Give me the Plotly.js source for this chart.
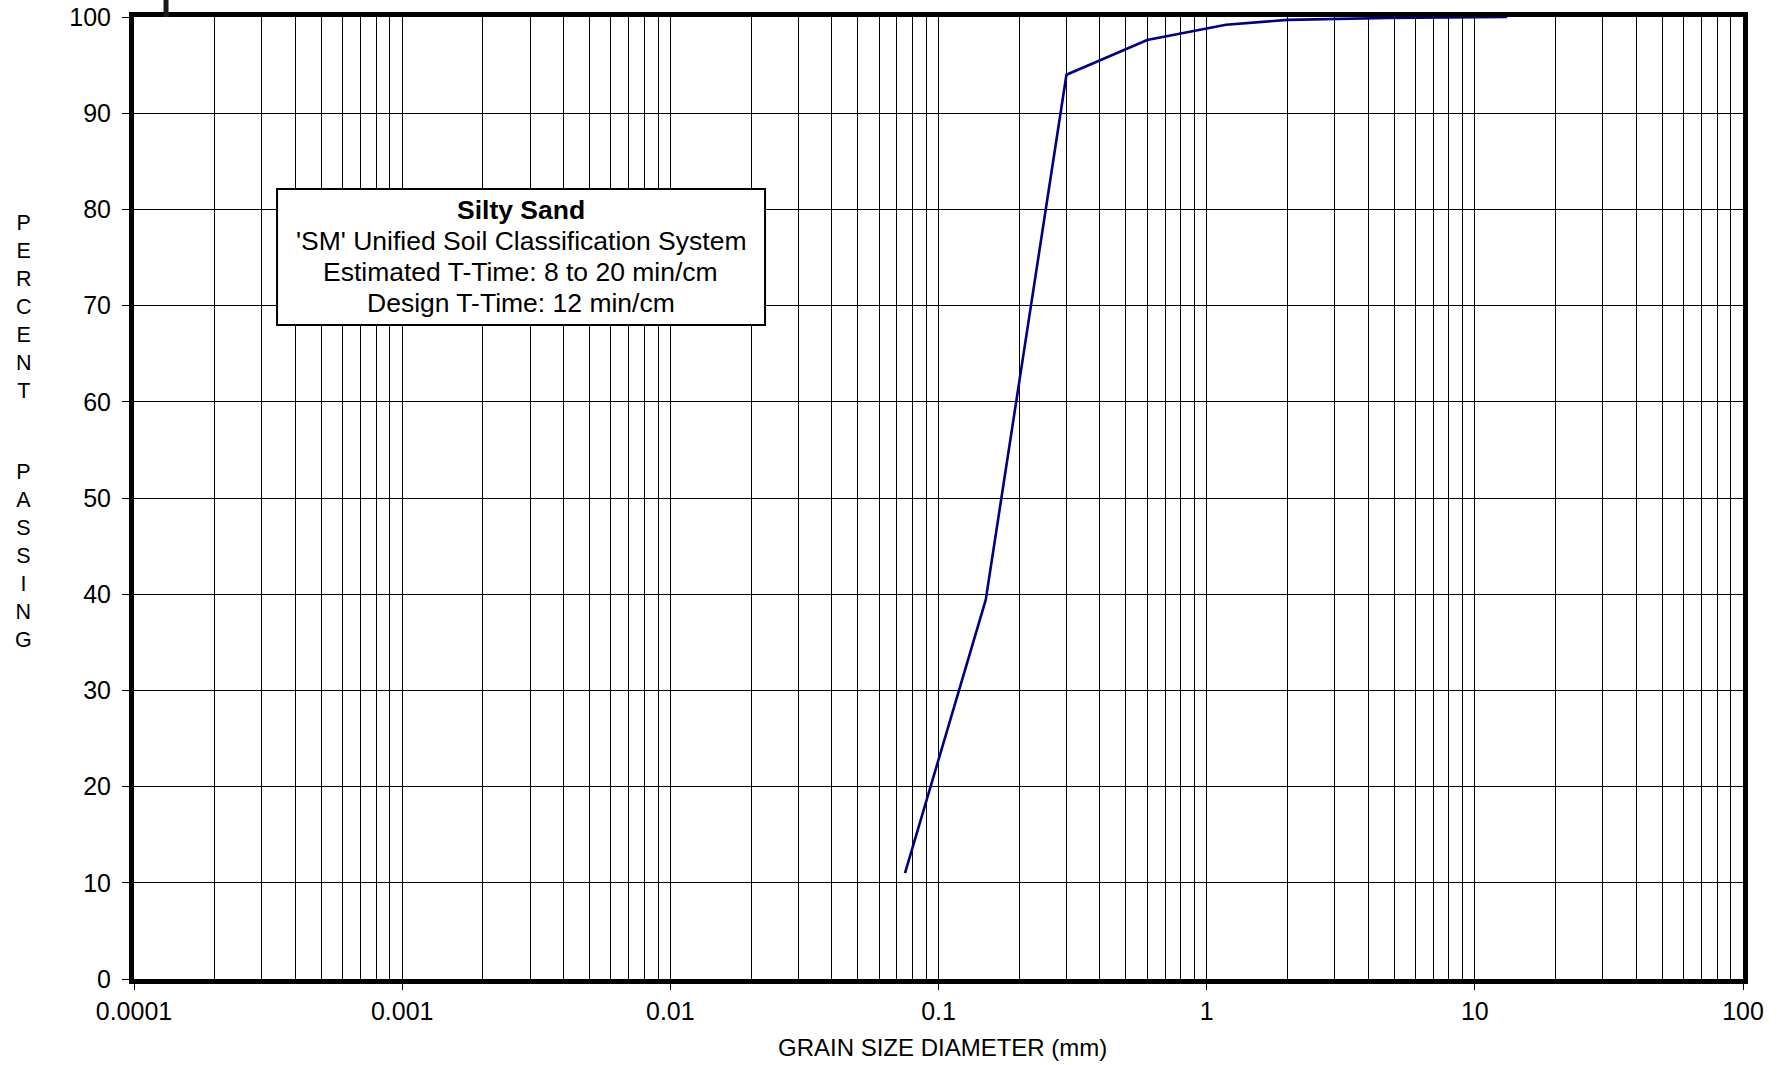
<!DOCTYPE html>
<html>
<head>
<meta charset="utf-8">
<script src="https://cdn.plot.ly/plotly-3.0.1.min.js"></script>
<style>html,body{margin:0;padding:0;background:#fff;}#chart{width:1784px;height:1065px;}</style>
</head>
<body>
<div id="chart"></div>
<script>
// Data
const grainSize = [0.075, 0.15, 0.3, 0.6, 1.18, 2.0, 4.75, 13.2];
const percentPassing = [11.0, 39.4, 94.0, 97.6, 99.2, 99.7, 99.9, 100];

const xTickVals = [0.0001, 0.001, 0.01, 0.1, 1, 10, 100];
const xTickText = ['0.0001', '0.001', '0.01', '0.1', '1', '10', '100'];
const yTickVals = [0, 10, 20, 30, 40, 50, 60, 70, 80, 90, 100];

const boxTitle = 'Silty Sand';
const boxLines = ["'SM' Unified Soil Classification System", 'Estimated T-Time: 8 to 20 min/cm', 'Design T-Time: 12 min/cm'];
const yTitleWords = ['PERCENT', 'PASSING'];
const xTitle = 'GRAIN SIZE DIAMETER (mm)';

// minor grid positions (2..9 in each decade)
const minorVals = [];
for (let e = -4; e < 2; e++) {
  for (let d = 2; d <= 9; d++) minorVals.push(d * Math.pow(10, e));
}

const font = 'Liberation Sans, Arial, sans-serif';

const trace = {
  x: grainSize,
  y: percentPassing,
  type: 'scatter',
  mode: 'lines',
  line: {color: '#000080', width: 2.6},
  hoverinfo: 'x+y'
};

// text box lines, placed one per line (paper y of each line centre)
const boxLineY = [0.7989, 0.7669, 0.7350, 0.7030];
const boxTexts = ['<b>' + boxTitle + '</b>'].concat(boxLines);
const boxAnnotations = boxTexts.map((t, i) => ({
  xref: 'paper', yref: 'paper', x: 0.2405, y: boxLineY[i], xanchor: 'center', yanchor: 'middle',
  showarrow: false, align: 'center', text: t,
  font: {family: font, size: 26.5, color: '#000'}
}));

const layout = {
  width: 1784,
  height: 1065,
  margin: {l: 134, r: 41, t: 17, b: 86},
  paper_bgcolor: '#ffffff',
  plot_bgcolor: '#ffffff',
  showlegend: false,
  font: {family: font, color: '#000', size: 25},
  xaxis: {
    type: 'log',
    range: [-4, 2],
    tickmode: 'array',
    tickvals: xTickVals,
    ticktext: xTickText,
    ticks: 'outside',
    ticklen: 6,
    tickwidth: 1,
    tickcolor: '#000',
    tickfont: {family: font, size: 25, color: '#000'},
    showgrid: true,
    gridcolor: '#000',
    gridwidth: 1,
    minor: {tickmode: 'array', tickvals: minorVals, showgrid: true, gridcolor: '#000', gridwidth: 1, ticks: ''},
    showline: true,
    linecolor: '#000',
    linewidth: 5,
    mirror: true,
    zeroline: false
  },
  yaxis: {
    range: [0, 100],
    tickmode: 'array',
    tickvals: yTickVals,
    ticks: 'outside',
    ticklen: 7,
    tickwidth: 1,
    tickcolor: '#000',
    ticklabelstandoff: 6,
    tickfont: {family: font, size: 25, color: '#000'},
    showgrid: true,
    gridcolor: '#000',
    gridwidth: 1,
    showline: true,
    linecolor: '#000',
    linewidth: 5,
    mirror: true,
    zeroline: false
  },
  shapes: [
    {type: 'rect', xref: 'paper', yref: 'paper', x0: 0.0889, x1: 0.3922, y0: 0.6798, y1: 0.8212,
     line: {color: '#000', width: 2}, fillcolor: '#ffffff', layer: 'above'},
    {type: 'line', xref: 'paper', yref: 'paper', x0: 0.0199, x1: 0.0199, y0: 1.0, y1: 1.02,
     line: {color: '#1a1a1a', width: 5}}
  ],
  annotations: boxAnnotations.concat([
    {xref: 'paper', yref: 'paper', x: 0.5022, y: -0.0717, xanchor: 'center', yanchor: 'middle',
     showarrow: false, align: 'center', text: xTitle,
     font: {family: font, size: 24, color: '#000'}},
    {xref: 'paper', yref: 'paper', x: -0.0684, y: 0.699, xanchor: 'center', yanchor: 'middle',
     showarrow: false, align: 'center', text: yTitleWords[0].split('').join('<br>'),
     font: {family: font, size: 21.5, color: '#000'}},
    {xref: 'paper', yref: 'paper', x: -0.0684, y: 0.4402, xanchor: 'center', yanchor: 'middle',
     showarrow: false, align: 'center', text: yTitleWords[1].split('').join('<br>'),
     font: {family: font, size: 21.5, color: '#000'}}
  ])
};

Plotly.newPlot('chart', [trace], layout, {displayModeBar: false, staticPlot: true});
</script>
</body>
</html>
